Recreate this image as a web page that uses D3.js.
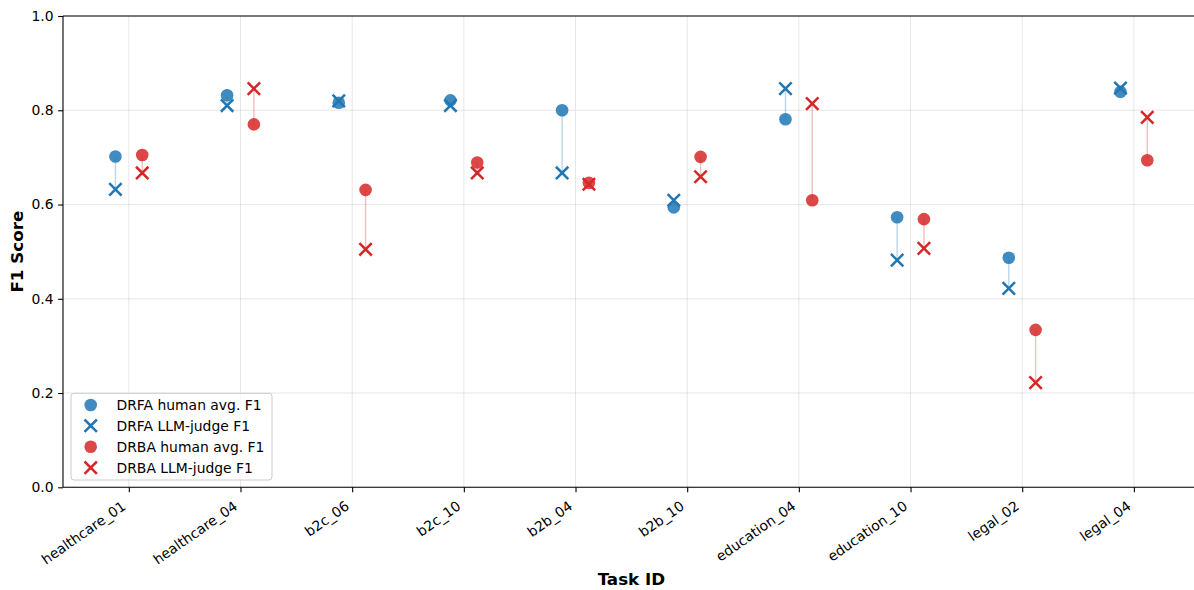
<!DOCTYPE html>
<html>
<head>
<meta charset="utf-8">
<script src="https://cdn.jsdelivr.net/npm/d3@7"></script>
<style>
  html, body { margin: 0; padding: 0; background: #fff; }
  svg { display: block; font-family: "DejaVu Sans", sans-serif; }
</style>
</head>
<body>
<svg id="chart" width="1194" height="590"></svg>
<script>
const categories = ["healthcare_01","healthcare_04","b2c_06","b2c_10","b2b_04","b2b_10","education_04","education_10","legal_02","legal_04"];
const drfaHuman = [0.702, 0.832, 0.816, 0.821, 0.800, 0.594, 0.781, 0.573, 0.487, 0.839];
const drfaLLM   = [0.632, 0.810, 0.820, 0.810, 0.667, 0.609, 0.846, 0.482, 0.422, 0.847];
const drbaHuman = [0.705, 0.770, 0.631, 0.689, 0.646, 0.701, 0.609, 0.569, 0.334, 0.694];
const drbaLLM   = [0.667, 0.846, 0.505, 0.667, 0.643, 0.659, 0.814, 0.507, 0.222, 0.785];
const yTicks = [0.0, 0.2, 0.4, 0.6, 0.8, 1.0];
const seriesNames = ["DRFA human avg. F1", "DRFA LLM-judge F1", "DRBA human avg. F1", "DRBA LLM-judge F1"];

(function () {
const blue = "#1f77b4", red = "#d62728";
const pL = 63, pR = 1199.7, pT = 16, pB = 487.3;

const svg = d3.select("#chart");
const x = d3.scalePoint().domain(categories).range([pL, pR]).padding(0.5895);
const y = d3.scaleLinear().domain([0, 1]).range([pB, pT]);
const off = 0.12 * x.step();

// grid
const g = svg.append("g");
g.selectAll(".gy").data(yTicks).join("line")
  .attr("x1", pL).attr("x2", pR)
  .attr("y1", d => y(d)).attr("y2", d => y(d))
  .attr("stroke", "#b0b0b0").attr("stroke-opacity", 0.3).attr("stroke-width", 1);
g.selectAll(".gx").data(categories).join("line")
  .attr("x1", d => x(d)).attr("x2", d => x(d))
  .attr("y1", pT).attr("y2", pB)
  .attr("stroke", "#b0b0b0").attr("stroke-opacity", 0.3).attr("stroke-width", 1);

// connectors
const conn = (h, l, dx, col) => {
  svg.append("g").selectAll("line").data(categories).join("line")
    .attr("x1", d => x(d) + dx).attr("x2", d => x(d) + dx)
    .attr("y1", (d, i) => y(h[i])).attr("y2", (d, i) => y(l[i]))
    .attr("stroke", col).attr("stroke-opacity", 0.3).attr("stroke-width", 1.4);
};
conn(drfaHuman, drfaLLM, -off, blue);
conn(drbaHuman, drbaLLM, off, red);

const xPath = s => `M${-s},${-s}L${s},${s}M${-s},${s}L${s},${-s}`;
const circles = (vals, dx, col) => {
  svg.append("g").selectAll("circle").data(categories).join("circle")
    .attr("cx", d => x(d) + dx).attr("cy", (d, i) => y(vals[i]))
    .attr("r", 6.3).attr("fill", col).attr("fill-opacity", 0.85);
};
const crosses = (vals, dx, col) => {
  svg.append("g").selectAll("path").data(categories).join("path")
    .attr("transform", (d, i) => `translate(${x(d) + dx},${y(vals[i])})`)
    .attr("d", xPath(6.2)).attr("stroke", col).attr("stroke-width", 2.5).attr("fill", "none");
};
circles(drfaHuman, -off, blue);
crosses(drfaLLM, -off, blue);
circles(drbaHuman, off, red);
crosses(drbaLLM, off, red);

// spines
svg.append("line").attr("x1", pL).attr("x2", pL).attr("y1", pT).attr("y2", pB).attr("stroke", "#000").attr("stroke-width", 1.1);
svg.append("line").attr("x1", pL).attr("x2", pR).attr("y1", pB).attr("y2", pB).attr("stroke", "#000").attr("stroke-width", 1.1);
svg.append("line").attr("x1", pL).attr("x2", pR).attr("y1", pT).attr("y2", pT).attr("stroke", "#000").attr("stroke-width", 1.1);

// y axis
const yAxis = svg.append("g").attr("transform", `translate(${pL},0)`)
  .call(d3.axisLeft(y).tickValues(yTicks).tickFormat(d3.format(".1f")).tickSize(4.9).tickPadding(4.5));
yAxis.select(".domain").remove();
yAxis.selectAll("text").attr("font-size", 13.9).attr("font-family", "DejaVu Sans").attr("fill", "#000");
yAxis.selectAll("line").attr("stroke", "#000").attr("stroke-width", 1.1);

// x axis
const xAxis = svg.append("g").attr("transform", `translate(0,${pB})`)
  .call(d3.axisBottom(x).tickSize(4.9).tickFormat(""));
xAxis.select(".domain").remove();
xAxis.selectAll("line").attr("stroke", "#000").attr("stroke-width", 1.1);
svg.append("g").selectAll("text").data(categories).join("text")
  .attr("transform", d => `translate(${x(d) - 2},${pB + 21}) rotate(-35)`)
  .attr("text-anchor", "end")
  .attr("font-size", 13.9).attr("fill", "#000")
  .text(d => d);

// axis labels
svg.append("text").attr("x", (pL + pR) / 2).attr("y", 585)
  .attr("text-anchor", "middle").attr("font-size", 16.7).attr("font-weight", "bold").text("Task ID");
svg.append("text").attr("transform", `translate(23,${(pT + pB) / 2}) rotate(-90)`)
  .attr("text-anchor", "middle").attr("font-size", 16.7).attr("font-weight", "bold").text("F1 Score");

// legend
const lg = svg.append("g");
lg.append("rect").attr("x", 71).attr("y", 393.3).attr("width", 201).attr("height", 86.7)
  .attr("rx", 3).attr("fill", "#fff").attr("fill-opacity", 0.8).attr("stroke", "#cccccc").attr("stroke-width", 1);
const rows = [405, 425.7, 446.7, 467.7];
const kinds = [["c", blue], ["x", blue], ["c", red], ["x", red]];
seriesNames.forEach((name, i) => {
  const [k, col] = kinds[i];
  if (k === "c") {
    lg.append("circle").attr("cx", 90.7).attr("cy", rows[i]).attr("r", 6.3).attr("fill", col).attr("fill-opacity", 0.85);
  } else {
    lg.append("path").attr("transform", `translate(90.7,${rows[i]})`).attr("d", xPath(6.2))
      .attr("stroke", col).attr("stroke-width", 2.5).attr("fill", "none");
  }
  lg.append("text").attr("x", 116.5).attr("y", rows[i]).attr("dy", "0.35em")
    .attr("font-size", 13.9).attr("fill", "#000").text(name);
});
})();
</script>
</body>
</html>
